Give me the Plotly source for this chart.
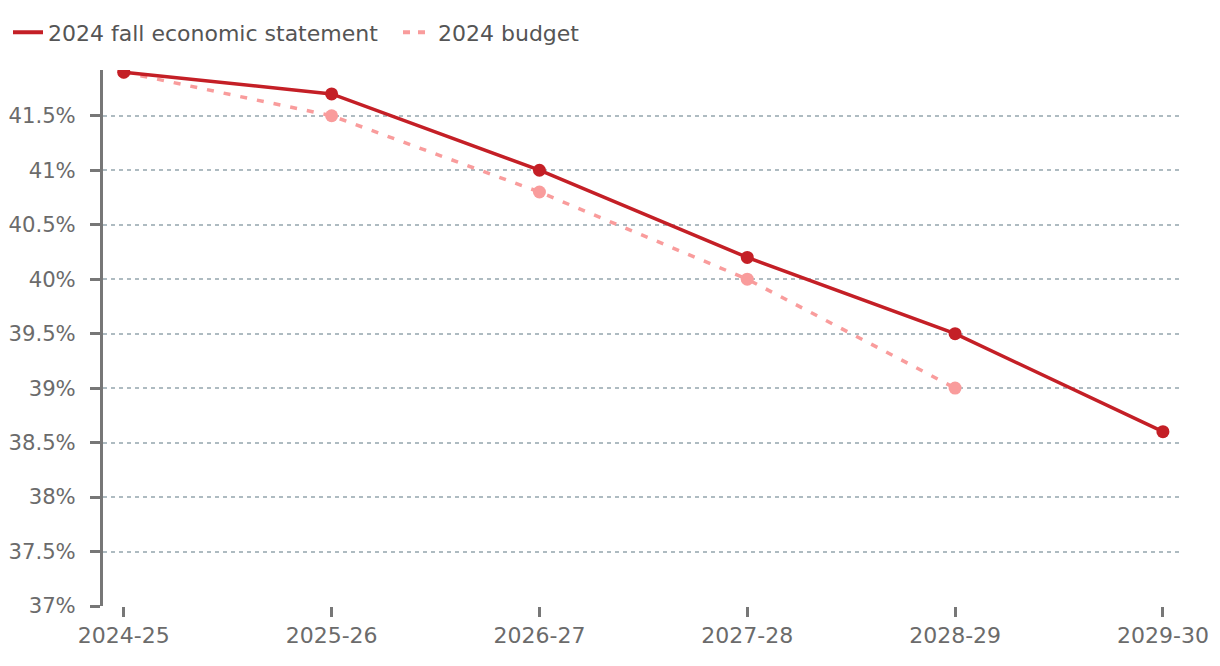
import plotly.graph_objects as go

years = ["2024-25", "2025-26", "2026-27", "2027-28", "2028-29", "2029-30"]
fes_values = [41.9, 41.7, 41.0, 40.2, 39.5, 38.6]
budget_years = ["2024-25", "2025-26", "2026-27", "2027-28", "2028-29"]
budget_values = [41.9, 41.5, 40.8, 40.0, 39.0]
y_ticks = [37, 37.5, 38, 38.5, 39, 39.5, 40, 40.5, 41, 41.5]
y_tick_text = [f"{v:g}%" for v in y_ticks]

FES_COLOR = "#c41f26"
BUD_COLOR = "#f99c9c"
FONT = "DejaVu Sans, sans-serif"

fig = go.Figure()
fig.add_trace(go.Scatter(
    x=budget_years, y=budget_values, name="2024 budget", mode="lines+markers",
    line=dict(color=BUD_COLOR, width=3.5, dash="7px,10px"),
    marker=dict(color=BUD_COLOR, size=13), showlegend=False,
))
fig.add_trace(go.Scatter(
    x=years, y=fes_values, name="2024 fall economic statement", mode="lines+markers",
    line=dict(color=FES_COLOR, width=3.5),
    marker=dict(color=FES_COLOR, size=13), showlegend=False,
))
# legend-only entries (lines without markers)
fig.add_trace(go.Scatter(
    x=[None], y=[None], name="2024 fall economic statement", mode="lines",
    line=dict(color=FES_COLOR, width=4), legendrank=1,
))
fig.add_trace(go.Scatter(
    x=[None], y=[None], name="2024 budget", mode="lines",
    line=dict(color=BUD_COLOR, width=4, dash="7px,8px"), legendrank=2,
))

fig.update_layout(
    width=1220, height=666,
    margin=dict(l=95, r=47, t=62, b=68),
    paper_bgcolor="white", plot_bgcolor="white",
    font=dict(family=FONT, size=21, color="#6b6b6b"),
    showlegend=True,
    legend=dict(orientation="h", xref="container", yref="container",
                x=0.0, y=0.995, xanchor="left", yanchor="top",
                font=dict(family=FONT, size=22, color="#555555"),
                entrywidth=345, entrywidthmode="pixels",
                traceorder="normal"),
    xaxis=dict(type="category", range=[-0.1, 5.087], showgrid=False,
               showline=False, zeroline=False, automargin=False,
               ticks="outside", ticklen=10, tickwidth=3, tickcolor="#777777",
               tickfont=dict(family=FONT, size=22, color="#6b6b6b")),
    yaxis=dict(range=[37, 41.92], tickvals=y_ticks, ticktext=y_tick_text,
               showgrid=True, gridcolor="#aebbc1", griddash="4px,4px", gridwidth=1.5,
               showline=True, linecolor="#777777", linewidth=3,
               zeroline=False, ticklabelstandoff=10, automargin=False,
               ticks="outside", ticklen=10, tickwidth=3, tickcolor="#777777",
               tickfont=dict(family=FONT, size=21.2, color="#6b6b6b")),
)

fig.write_html("out.html")
